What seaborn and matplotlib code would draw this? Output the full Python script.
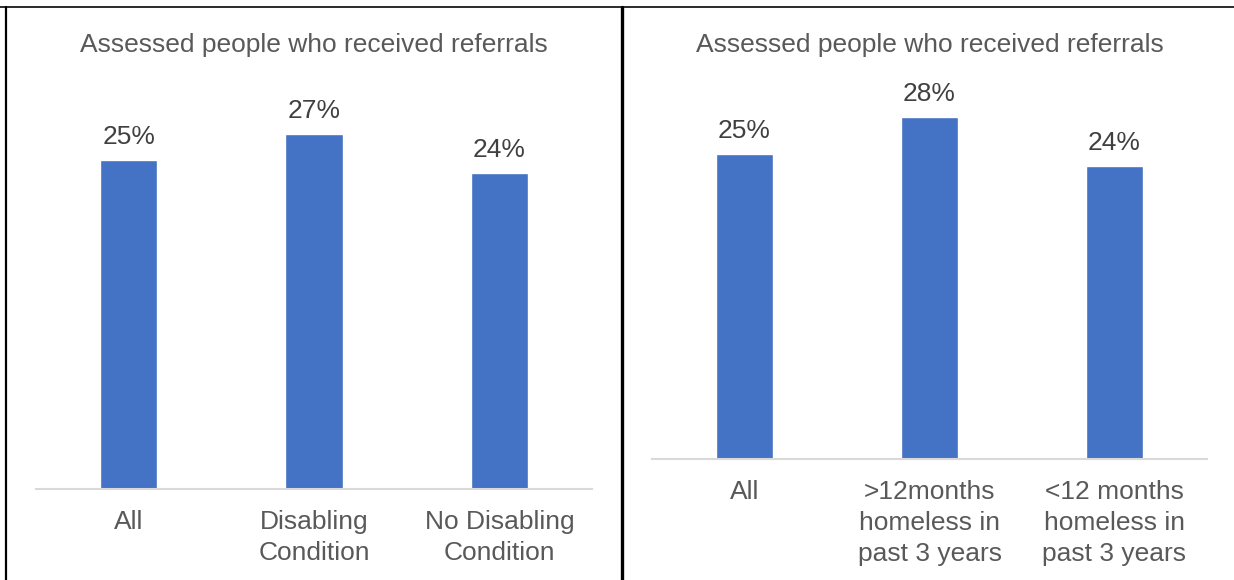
import matplotlib
matplotlib.use("Agg")
import matplotlib.pyplot as plt
from matplotlib.lines import Line2D
import seaborn as sns
import pandas as pd

# Chart data
title_text = "Assessed people who received referrals"
left_categories = ["All", "Disabling\nCondition", "No Disabling\nCondition"]
left_values = [25, 27, 24]
right_categories = ["All", ">12months\nhomeless in\npast 3 years", "<12 months\nhomeless in\npast 3 years"]
right_values = [25, 28, 24]

BAR_COLOR = "#4472C4"
TITLE_COLOR = "#595959"
VALUE_COLOR = "#404040"
TICK_COLOR = "#595959"
AXIS_COLOR = "#D9D9D9"
FS = 19

sns.set_theme(style="white")
plt.rcParams["font.family"] = ["Liberation Sans", "DejaVu Sans"]

W, H = 1234, 580
fig = plt.figure(figsize=(W / 100, H / 100), dpi=100)
fig.patch.set_facecolor("white")


def px_axes(x0, x1, y_base, px_per_unit, ymax=30):
    height = px_per_unit * ymax
    return fig.add_axes([x0 / W, (H - y_base) / H, (x1 - x0) / W, height / H])


def draw_panel(ax, cats, vals):
    df = pd.DataFrame({"category": cats, "value": vals})
    sns.barplot(data=df, x="category", y="value", color=BAR_COLOR,
                width=0.31, saturation=1, ax=ax)
    ax.set_xlim(-0.5, len(cats) - 0.5)
    ax.set_ylim(0, 30)
    ax.set_xlabel("")
    ax.set_ylabel("")
    ax.set_yticks([])
    for side in ("top", "right", "left"):
        ax.spines[side].set_visible(False)
    ax.spines["bottom"].set_color(AXIS_COLOR)
    ax.spines["bottom"].set_linewidth(1.5)
    ax.tick_params(axis="x", length=0, pad=15, labelsize=FS, colors=TICK_COLOR)
    for lbl in ax.get_xticklabels():
        lbl.set_linespacing(1.36)
    ax.bar_label(ax.containers[0], labels=[f"{v}%" for v in vals],
                 padding=8, fontsize=FS, color=VALUE_COLOR)
    ax.patch.set_alpha(0)


ax_left = px_axes(36, 592, 489, 13.15)
draw_panel(ax_left, left_categories, left_values)

ax_right = px_axes(652, 1207, 459, 12.2)
draw_panel(ax_right, right_categories, right_values)

# Panel titles
fig.text(314 / W, 1 - 45 / H, title_text, ha="center", va="center",
         fontsize=FS, color=TITLE_COLOR)
fig.text(930 / W, 1 - 45 / H, title_text, ha="center", va="center",
         fontsize=FS, color=TITLE_COLOR)

# Panel frame lines
fig.add_artist(Line2D([0, 1], [1 - 7 / H, 1 - 7 / H], color="#1a1a1a", lw=1.3,
                      transform=fig.transFigure))
fig.add_artist(Line2D([6 / W, 6 / W], [0, 1 - 7 / H], color="black", lw=1.6,
                      transform=fig.transFigure))
fig.add_artist(Line2D([621.5 / W, 621.5 / W], [0, 1 - 7 / H], color="black", lw=2.4,
                      transform=fig.transFigure))

fig.savefig("out.png", dpi=100, facecolor="white")
